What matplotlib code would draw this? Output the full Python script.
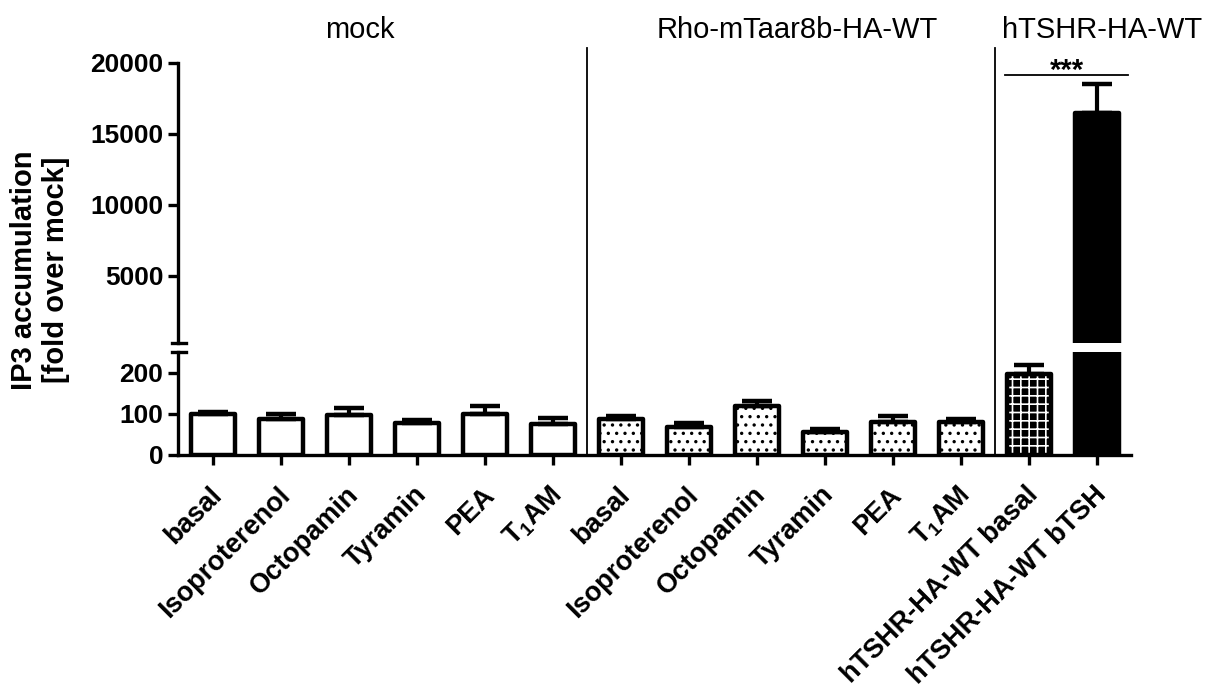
import matplotlib
matplotlib.use("Agg")
import matplotlib.pyplot as plt
import matplotlib.transforms as mtransforms
from matplotlib.lines import Line2D

plt.rcParams["font.family"] = ["Liberation Sans", "DejaVu Sans"]
plt.rcParams["font.weight"] = "bold"
plt.rcParams["mathtext.fontset"] = "custom"
plt.rcParams["mathtext.rm"] = "Liberation Sans:bold"
plt.rcParams["mathtext.it"] = "Liberation Sans:bold"
plt.rcParams["mathtext.bf"] = "Liberation Sans:bold"
plt.rcParams["hatch.linewidth"] = 1.2

# data: IP3 accumulation, fold over mock (mean and upper SEM)
labels = ["basal", "Isoproterenol", "Octopamin", "Tyramin", "PEA", "T$_1$AM",
          "basal", "Isoproterenol", "Octopamin", "Tyramin", "PEA", "T$_1$AM",
          "hTSHR-HA-WT basal", "hTSHR-HA-WT bTSH"]
mock_vals = [100, 87, 96, 78, 100, 76]
mock_sem = [5, 13, 17, 8, 19, 13]
taar_vals = [87, 68, 119, 56, 80, 80]
taar_sem = [7, 10, 13, 7, 15, 7]
tshr_vals = [196, 16500]
tshr_sem = [23, 2000]
groups = ["mock", "Rho-mTaar8b-HA-WT", "hTSHR-HA-WT"]
group_x = [2.15, 8.59, 13.07]
sig_pair = (11.65, 13.46)
sig_y = 19150

vals = mock_vals + taar_vals + tshr_vals
sems = mock_sem + taar_sem + tshr_sem
x = list(range(len(vals)))

W, H = 1208, 690
fig = plt.figure(figsize=(W / 100, H / 100), dpi=100)
ax_lo = fig.add_axes([178 / W, 1 - 455 / H, 953 / W, 103 / H])
ax_hi = fig.add_axes([178 / W, 1 - 343 / H, 953 / W, 280 / H])

bw = 0.65
lw = 3.2
# lower segment: all bars
ax_lo.bar(x[0:6], mock_vals, bw, color="white", edgecolor="black", lw=lw, joinstyle="round")
ax_lo.bar(x[6:12], taar_vals, bw, color="white", edgecolor="black", hatch="..",
          lw=lw, joinstyle="round")
ax_lo.bar(x[12], tshr_vals[0], bw, color="black", edgecolor="white", hatch="++", lw=0)
ax_lo.bar(x[12], tshr_vals[0], bw, fill=False, edgecolor="black", lw=lw, joinstyle="round")
# the bTSH bar runs through both segments
for ax in (ax_lo, ax_hi):
    ax.bar(x[13], tshr_vals[1], bw, color="black", edgecolor="black", lw=lw, joinstyle="round")
    ax.set_xlim(-0.52, 13.5)
    for s in ("top", "right"):
        ax.spines[s].set_visible(False)
    ax.spines["left"].set_linewidth(2.4)
    ax.spines["bottom"].set_linewidth(2.4)
    ax.tick_params(axis="both", direction="out", length=7, width=2.4, labelsize=19)

ax_lo.errorbar(x[:13], vals[:13], yerr=[[0] * 13, sems[:13]], fmt="none", ecolor="black",
               elinewidth=3, capsize=11, capthick=3.2)
ax_hi.errorbar(x[13:], vals[13:], yerr=[[0], sems[13:]], fmt="none", ecolor="black",
               elinewidth=3, capsize=11, capthick=3.2)

ax_lo.set_ylim(0, 250)
ax_lo.set_yticks([0, 100, 200])
ax_hi.set_ylim(250, 20000)
ax_hi.set_yticks([5000, 10000, 15000, 20000])
ax_hi.spines["bottom"].set_visible(False)
ax_hi.tick_params(axis="x", bottom=False, labelbottom=False)

ax_lo.set_xticks(x)
ax_lo.set_xticklabels(labels, rotation=45, ha="right", va="center", rotation_mode="anchor",
                      fontsize=19.5)
ax_lo.tick_params(axis="x", pad=19)
shift = mtransforms.ScaledTranslation(0.05, 0, fig.dpi_scale_trans)
for lbl in ax_lo.get_xticklabels():
    lbl.set_transform(lbl.get_transform() + shift)

# axis break marks
for ax, yy in ((ax_lo, 1), (ax_hi, 0)):
    ax.plot([-0.006, 0.008], [yy, yy], transform=ax.transAxes, color="black",
            lw=2.4, clip_on=False)

# group separators and titles
sep_tr = mtransforms.blended_transform_factory(ax_lo.transData, fig.transFigure)
for xs in (5.5, 11.5):
    fig.add_artist(Line2D([xs, xs], [1 - 455 / H, 1 - 48 / H], transform=sep_tr,
                          color="black", lw=1.3))
for gx, g in zip(group_x, groups):
    fig.text(gx, 1 - 30 / H, g, transform=sep_tr, ha="center", va="center",
             fontsize=21, fontweight="normal")

# significance bracket
ax_hi.plot(sig_pair, [sig_y, sig_y], color="black", lw=1.3, clip_on=False)
ax_hi.text(sum(sig_pair) / 2, sig_y - 260, "***", ha="center", va="baseline", fontsize=21,
           fontweight="bold", clip_on=False)

fig.text(40 / W, 1 - 270 / H, "IP3 accumulation\n[fold over mock]", rotation=90,
         ha="center", va="center", fontsize=21, fontweight="bold", linespacing=1.2)

fig.savefig("out.png", dpi=100)
